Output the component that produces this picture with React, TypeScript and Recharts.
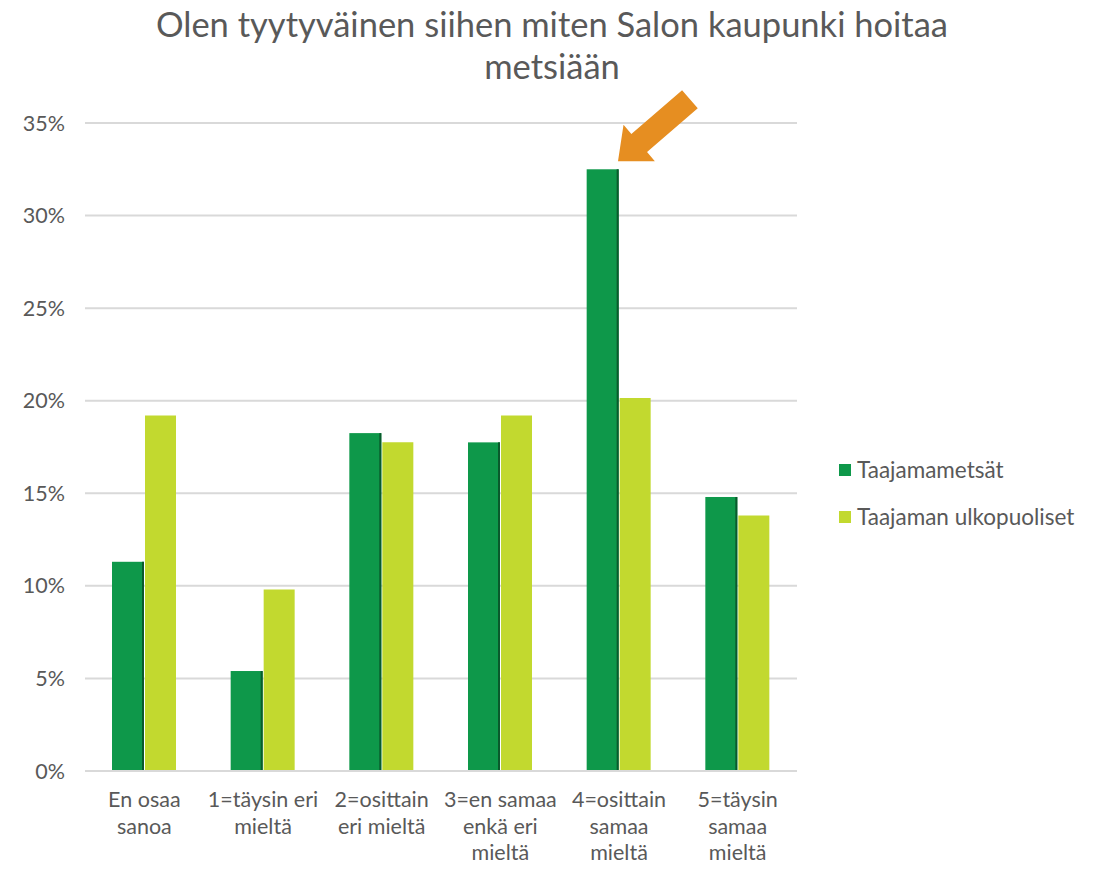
import {
  BarChart,
  Bar,
  XAxis,
  YAxis,
  CartesianGrid,
  ReferenceDot,
} from "recharts";

const categories = [
  "En osaa\nsanoa",
  "1=täysin eri\nmieltä",
  "2=osittain\neri mieltä",
  "3=en samaa\nenkä eri\nmieltä",
  "4=osittain\nsamaa\nmieltä",
  "5=täysin\nsamaa\nmieltä",
];
const taajamametsat = [11.3, 5.4, 18.25, 17.75, 32.5, 14.8];
const ulkopuoliset = [19.2, 9.8, 17.75, 19.2, 20.15, 13.8];
const yTicks = [0, 5, 10, 15, 20, 25, 30, 35];

const seriesNames = ["Taajamametsät", "Taajaman ulkopuoliset"];
const colors = ["#0e984a", "#c2d92f"];

const data = categories.map((name, i) => ({
  name,
  a: taajamametsat[i],
  b: ulkopuoliset[i],
}));

const font = "Lato, 'Open Sans', sans-serif";
const grey = "#595959";
const fs = 21.5;

// green bars have a thin dark edge on the right
const GreenBar = (props: any) => {
  const { x, y, width, height, fill } = props;
  if (!height || height <= 0) return null;
  return (
    <g>
      <rect x={x} y={y} width={width} height={height} fill={fill} />
      <rect x={x + width - 2} y={y} width={2} height={height} fill="#0a5a2c" />
    </g>
  );
};

const CategoryTick = (props: any) => {
  const { x, y, payload } = props;
  const lines = String(payload.value).split("\n");
  return (
    <text x={x} y={y + 28} textAnchor="middle" fill={grey} fontSize={fs} fontFamily={font}>
      {lines.map((l, i) => (
        <tspan key={i} x={x} dy={i === 0 ? 0 : 26.5}>
          {l}
        </tspan>
      ))}
    </text>
  );
};

// orange arrow pointing at the highest bar
const Arrow = (props: any) => {
  const { cx, cy } = props;
  if (cx == null || cy == null) return null;
  const tx = cx - 1;
  const ty = cy - 8;
  const ux = 0.757, uy = -0.653;
  const vx = 0.653, vy = 0.757;
  const L = 95, h = 28, hw = 24, sw = 12;
  const pts = [
    [0, 0],
    [h, hw],
    [h, sw],
    [L, sw],
    [L, -sw],
    [h, -sw],
    [h, -hw],
  ]
    .map(([a, b]) => `${tx + a * ux + b * vx},${ty + a * uy + b * vy}`)
    .join(" ");
  return <polygon points={pts} fill="#e68e21" />;
};

export default function App() {
  return (
    <div style={{ position: "relative", width: 1097, height: 872, margin: -8, background: "#fff" }}>
      <div
        style={{
          position: "absolute",
          left: 0,
          top: 3,
          width: 1104,
          textAlign: "center",
          fontFamily: font,
          fontSize: 34.5,
          lineHeight: "42px",
          color: grey,
        }}
      >
        Olen tyytyväinen siihen miten Salon kaupunki hoitaa
        <br />
        metsiään
      </div>
      <div
        style={{
          position: "absolute",
          left: 839,
          top: 446,
          fontFamily: font,
          fontSize: 22.5,
          color: grey,
        }}
      >
        {seriesNames.map((n, i) => (
          <div key={n} style={{ display: "flex", alignItems: "center", height: 47 }}>
            <span
              style={{
                display: "inline-block",
                width: 12,
                height: 12,
                background: colors[i],
                marginRight: 6,
              }}
            />
            {n}
          </div>
        ))}
      </div>
      <BarChart
        width={1097}
        height={872}
        data={data}
        margin={{ top: 123, right: 300, left: 0, bottom: 0 }}
        barGap={1}
        style={{ overflow: "visible" }}
      >
        <CartesianGrid vertical={false} stroke="#d9d9d9" strokeWidth={2} />
        <XAxis
          dataKey="name"
          height={101}
          interval={0}
          tickLine={false}
          axisLine={{ stroke: "#d9d9d9", strokeWidth: 2 }}
          tick={<CategoryTick />}
        />
        <YAxis
          width={85}
          domain={[0, 35]}
          ticks={yTicks}
          axisLine={false}
          tickLine={false}
          tickSize={0}
          tickMargin={20}
          tickFormatter={(v) => `${v}%`}
          tick={{ fill: grey, fontSize: fs, fontFamily: font }}
        />
        <Bar
          dataKey="a"
          name={seriesNames[0]}
          fill={colors[0]}
          barSize={32}
          shape={<GreenBar />}
          isAnimationActive={false}
        />
        <Bar
          dataKey="b"
          name={seriesNames[1]}
          fill={colors[1]}
          barSize={31}
          isAnimationActive={false}
        />
        <ReferenceDot
          x={categories[4]}
          y={taajamametsat[4]}
          r={0}
          shape={<Arrow />}
          ifOverflow="visible"
        />
      </BarChart>
    </div>
  );
}
